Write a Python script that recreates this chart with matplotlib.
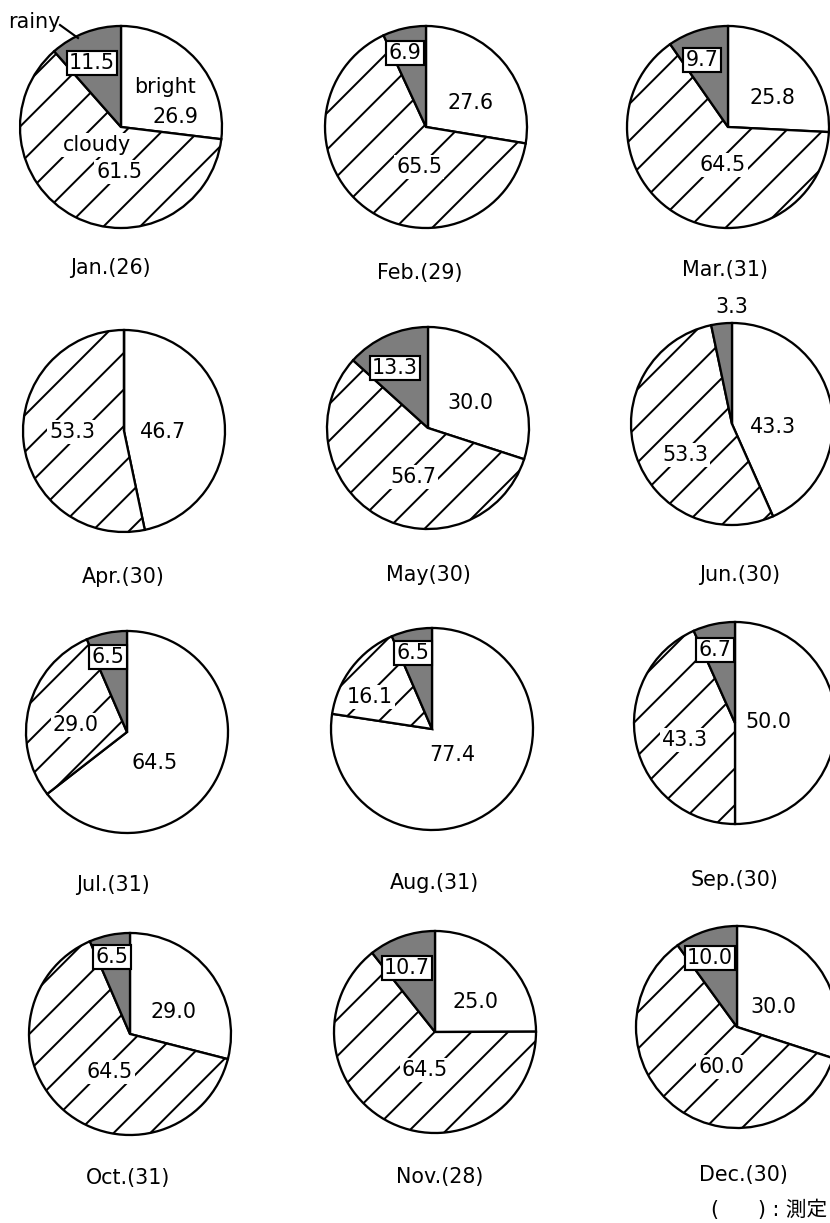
import matplotlib
matplotlib.use('Agg')
import matplotlib.pyplot as plt
from matplotlib.lines import Line2D

plt.rcParams['font.family'] = ['DejaVu Sans', 'Noto Sans CJK JP']
plt.rcParams['hatch.linewidth'] = 1.3

# data: share of days (%) per month
months = ['Jan.', 'Feb.', 'Mar.', 'Apr.', 'May', 'Jun.',
          'Jul.', 'Aug.', 'Sep.', 'Oct.', 'Nov.', 'Dec.']
days = [26, 29, 31, 30, 30, 30, 31, 31, 30, 31, 28, 30]
bright = [26.9, 27.6, 25.8, 46.7, 30.0, 43.3, 64.5, 77.4, 50.0, 29.0, 25.0, 30.0]
cloudy = [61.5, 65.5, 64.5, 53.3, 56.7, 53.3, 29.0, 16.1, 43.3, 64.5, 64.5, 60.0]
rainy = [11.5, 6.9, 9.7, 0.0, 13.3, 3.3, 6.5, 6.5, 6.7, 6.5, 10.7, 10.0]

# layout (pixels)
W, H, DPI = 830, 1223, 110
R = 101
centers = [(121, 127), (426, 127), (728, 127),
           (124, 431), (428, 428), (732, 424),
           (127, 732), (432, 729), (735, 723),
           (130, 1034), (435, 1032), (737, 1027)]
bright_pos = [(175, 117), (470, 103), (772, 98), (163, 432), (470, 403), (773, 427),
              (155, 763), (452, 755), (768, 722), (173, 1012), (475, 1002), (773, 1007)]
cloudy_pos = [(119, 172), (419, 167), (723, 165), (72, 432), (413, 477), (685, 455),
              (76, 725), (370, 697), (685, 740), (110, 1072), (425, 1070), (721, 1067)]
rainy_pos = [(92, 63), (405, 53), (702, 60), None, (395, 368), (732, 307),
             (108, 657), (413, 653), (715, 650), (112, 957), (407, 968), (710, 958)]
title_pos = [(110, 268), (420, 273), (725, 270), (123, 577), (428, 575), (740, 575),
             (113, 885), (434, 883), (735, 880), (128, 1178), (440, 1177), (743, 1175)]

FS = 13.5
LW = 1.5
RAIN_COLOR = '#7d7d7d'
clear_box = dict(boxstyle='square,pad=0.1', fc='white', ec='none')


def px(x, y):
    return x / W, 1 - y / H


fig = plt.figure(figsize=(W / DPI, H / DPI), dpi=DPI)
fig.patch.set_facecolor('white')

for i in range(12):
    cx, cy = centers[i]
    s = 1.25 * R
    ax = fig.add_axes([(cx - s) / W, 1 - (cy + s) / H, 2 * s / W, 2 * s / H])
    ax.pie([bright[i], cloudy[i], rainy[i]],
           colors=['white', 'white', RAIN_COLOR],
           hatch=['', '/', ''],
           startangle=90, counterclock=False,
           wedgeprops=dict(edgecolor='black', linewidth=LW))

    fig.text(*px(*bright_pos[i]), f'{bright[i]:.1f}', ha='center', va='center', fontsize=FS)
    fig.text(*px(*cloudy_pos[i]), f'{cloudy[i]:.1f}', ha='center', va='center', fontsize=FS,
             bbox=clear_box)
    if rainy_pos[i] is not None:
        if i == 5:
            fig.text(*px(*rainy_pos[i]), f'{rainy[i]:.1f}', ha='center', va='center', fontsize=FS)
        else:
            fig.text(*px(*rainy_pos[i]), f'{rainy[i]:.1f}', ha='center', va='center', fontsize=FS,
                     bbox=dict(boxstyle='square,pad=0.12', fc='white', ec='black', lw=1.4))
    fig.text(*px(*title_pos[i]), f'{months[i]}({days[i]})', ha='center', va='center', fontsize=FS)

# legend words on January pie
fig.text(*px(165, 87), 'bright', ha='center', va='center', fontsize=FS)
fig.text(*px(97, 145), 'cloudy', ha='center', va='center', fontsize=FS, bbox=clear_box)
fig.text(*px(34, 22), 'rainy', ha='center', va='center', fontsize=FS)
x1, y1 = px(60, 25)
x2, y2 = px(78, 38)
fig.add_artist(Line2D([x1, x2], [y1, y2], color='black', lw=1.4, transform=fig.transFigure))

fig.text(*px(827, 1210), '(      ) : 測定', ha='right', va='center', fontsize=FS)

fig.savefig('out.png', dpi=DPI, facecolor='white')
